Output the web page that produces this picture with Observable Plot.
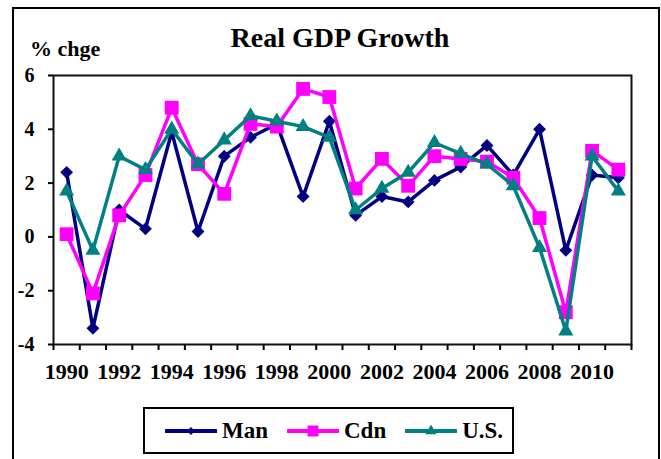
<!DOCTYPE html>
<html><head><meta charset="utf-8">
<script src="https://cdn.jsdelivr.net/npm/d3@7"></script>
<script src="https://cdn.jsdelivr.net/npm/@observablehq/plot@0.6"></script>
<style>
html,body{margin:0;padding:0;background:#fff;}
#wrap{position:relative;width:661px;height:459px;overflow:hidden;font-family:'Liberation Serif','Times New Roman',serif;font-weight:bold;color:#000;background:#fff;}
#frame{position:absolute;left:12px;top:7px;width:648px;height:540px;border:2px solid #000;box-sizing:border-box;}
#chart{position:absolute;left:0;top:0;}
#title{position:absolute;left:0;width:680px;top:24px;text-align:center;font-size:28px;line-height:28px;white-space:nowrap;}
#ylab{position:absolute;left:30px;top:38px;font-size:22px;line-height:22px;white-space:nowrap;}
#legend{position:absolute;left:143px;top:407px;width:371px;height:47px;border:2px solid #000;box-sizing:border-box;background:#fff;display:flex;align-items:center;padding-left:20px;}
.item{display:flex;align-items:center;margin-right:19px;}
.item svg{display:block;margin-right:5px;}
.item span{font-size:23px;line-height:23px;}
</style>
</head><body>
<div id="wrap">
  <div id="frame"></div>
  <div id="chart"></div>
  <div id="title">Real GDP Growth</div>
  <div id="ylab">% chge</div>
  <div id="legend"></div>
</div>
<script>
const years = [1990,1991,1992,1993,1994,1995,1996,1997,1998,1999,2000,2001,2002,2003,2004,2005,2006,2007,2008,2009,2010,2011];
const man = [2.4,-3.4,1.0,0.3,3.9,0.2,3.0,3.7,4.2,1.5,4.3,0.8,1.5,1.3,2.1,2.6,3.4,2.3,4.0,-0.5,2.3,2.2];
const cdn = [0.1,-2.1,0.8,2.3,4.8,2.7,1.6,4.2,4.1,5.5,5.2,1.8,2.9,1.9,3.0,2.9,2.8,2.2,0.7,-2.8,3.2,2.5];
const us  = [1.7,-0.5,3.0,2.5,4.0,2.7,3.6,4.5,4.3,4.1,3.7,1.0,1.8,2.4,3.5,3.1,2.7,1.9,-0.4,-3.5,3.0,1.7];
const yTicks = [-4,-2,0,2,4,6];
const xLabels = [1990,1992,1994,1996,1998,2000,2002,2004,2006,2008,2010];
const seriesNames = ["Man","Cdn","U.S."];
const seriesValues = [man, cdn, us];
const seriesColors = ["#000080","#FF00FF","#008080"];
const seriesSymbols = ["diamond2","square","triangle"];
const seriesR = [5.8,7.8,5.6];

const rows = seriesValues.map((vals, i) => years.map((yr, j) => ({year: yr, value: vals[j], series: seriesNames[i]})));
const boundaries = years.map(y => y - 0.5).concat([years[years.length - 1] + 0.5]);
const font = "'Liberation Serif','Times New Roman',serif";

const seriesMarks = [];
rows.forEach((r, i) => {
  seriesMarks.push(Plot.line(r, {x: "year", y: "value", stroke: seriesColors[i], strokeWidth: 3.5, strokeLinejoin: "miter"}));
  seriesMarks.push(Plot.dot(r, {x: "year", y: "value", symbol: seriesSymbols[i], fill: seriesColors[i], stroke: "none", r: seriesR[i]}));
});

const chart = Plot.plot({
  width: 661, height: 459,
  marginLeft: 53, marginRight: 30, marginTop: 75, marginBottom: 115,
  style: {fontFamily: font, fontWeight: "bold", background: "transparent", color: "#000", overflow: "visible"},
  x: {type: "linear", domain: [boundaries[0], boundaries[boundaries.length - 1]]},
  y: {domain: [yTicks[0], yTicks[yTicks.length - 1]]},
  marks: [
    Plot.axisY({ticks: yTicks, tickSize: 5, tickPadding: 14, tickFormat: d => String(d), fontSize: 20, fontWeight: "bold", fontFamily: font, strokeWidth: 2, label: null}),
    Plot.axisX({ticks: boundaries, tickSize: 6, tickFormat: () => "", strokeWidth: 2, label: null}),
    Plot.axisX({ticks: xLabels, tickSize: 0, tickPadding: 19, tickFormat: d => String(d), fontSize: 22, fontWeight: "bold", fontFamily: font, label: null}),
    Plot.frame({stroke: "#111", strokeWidth: 2}),
    ...seriesMarks
  ]
});
document.getElementById("chart").appendChild(chart);

// legend
const legend = d3.select("#legend");
const legendSym = [{type: d3.symbolDiamond2, size: 40}, {type: d3.symbolSquare, size: 120}, {type: d3.symbolTriangle, size: 55}];
seriesNames.forEach((name, i) => {
  const item = legend.append("div").attr("class", "item");
  const svg = item.append("svg").attr("width", 52).attr("height", 16);
  svg.append("line").attr("x1", 1).attr("x2", 51).attr("y1", 8).attr("y2", 8)
    .attr("stroke", seriesColors[i]).attr("stroke-width", 4).attr("stroke-linecap", "round");
  svg.append("path").attr("transform", "translate(26,8)")
    .attr("d", d3.symbol(legendSym[i].type, legendSym[i].size)()).attr("fill", seriesColors[i]);
  item.append("span").text(name);
});
</script>
</body></html>
